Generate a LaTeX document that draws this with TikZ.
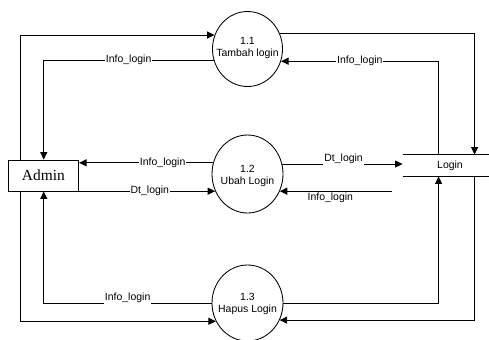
\documentclass[tikz,border=0pt]{standalone}
\usepackage{fontspec}
\setmainfont{Liberation Serif}
\setsansfont{Liberation Sans}
\usetikzlibrary{arrows.meta,shapes.geometric,positioning}
\tikzset{
  proc/.style={draw, ellipse, inner sep=0pt, minimum width=71bp, minimum height=77bp},
  ptext/.style={align=center, inner sep=0pt, font=\sffamily\fontsize{10.5}{12.5}\selectfont},
  lbl/.style={fill=white, inner sep=1bp, font=\sffamily\fontsize{10.5}{12}\selectfont},
  flow/.style={draw, line width=0.85bp, -{Triangle[length=7.5bp,width=7bp]}},
  ext/.style={draw, line width=0.85bp, inner sep=0pt, minimum width=70.5bp, minimum height=31bp, font=\fontsize{15.5}{18}\selectfont},
}
\begin{document}
\begin{tikzpicture}[x=1bp,y=-1bp,line width=0.85bp]
\useasboundingbox (0,0) rectangle (489,339);

% processes
\node[proc, minimum width=70bp, minimum height=75bp] (c11) at (247.5,49) {};
\node[ptext] (t11) at (247.5,48) {1.1\\Tambah login};
\node[proc, minimum height=78bp] (c12) at (247.5,174) {};
\node[ptext] (t12) at (247.5,176) {1.2\\Ubah Login};
\node[proc, minimum height=76bp] (c13) at (247.5,303) {};
\node[ptext] (t13) at (247.5,304) {1.3\\Hapus Login};

% external entity
\node[ext] (admin) at (43.4,175.5) {Admin};

% data store
\node[inner sep=0pt, minimum width=86bp, minimum height=21bp] (login) at (446,165.5) {};
\node[inner sep=0pt, font=\sffamily\fontsize{10.5}{12}\selectfont] (tlogin) at (450,165.5) {Login};
\draw (login.north west) -- (login.north east);
\draw (login.south west) -- (login.south east);

% flows around 1.1
\draw[flow] ([xshift=13bp]admin.north west) |- (c11.157);
\draw[flow] (c11.198) -| node[lbl, pos=0.25] (l2) {Info\_login} ([xshift=36bp]admin.north west);
\draw[flow] (c11.25) -| ([xshift=72bp]login.north west);
\draw[flow] ([xshift=36bp]login.north west) |- node[lbl, pos=0.75] (l4) {Info\_login} (c11.340);

% flows around 1.2
\draw[flow] (c12.162) -- node[lbl, pos=0.376] (l5) {Info\_login} (c12.162 -| admin.east);
\draw[flow] (c12.208 -| admin.east) -- node[lbl, pos=0.52] (l6) {Dt\_login} (c12.208);
\draw[flow] (c12.16) -- node[lbl, pos=0.51, yshift=5bp] (l7) {Dt\_login} (c12.16 -| login.west);
\coordinate (f8) at (392,191);
\draw[flow] (f8 |- c12.332) -- node[pos=0.55, yshift=-7bp, inner sep=0pt, font=\sffamily\fontsize{10.5}{12}\selectfont] (l8) {Info\_login} (c12.332);

% flows around 1.3
\draw[flow] (c13.west) -| node[lbl, pos=0.25, yshift=5bp] (l9) {Info\_login} ([xshift=36bp]admin.south west);
\draw[flow] ([xshift=13bp]admin.south west) |- (c13.210);
\draw[flow] (c13.east) -| ([xshift=36bp]login.south west);
\draw[flow] ([xshift=72bp]login.south west) |- (c13.332);
\end{tikzpicture}
\end{document}
